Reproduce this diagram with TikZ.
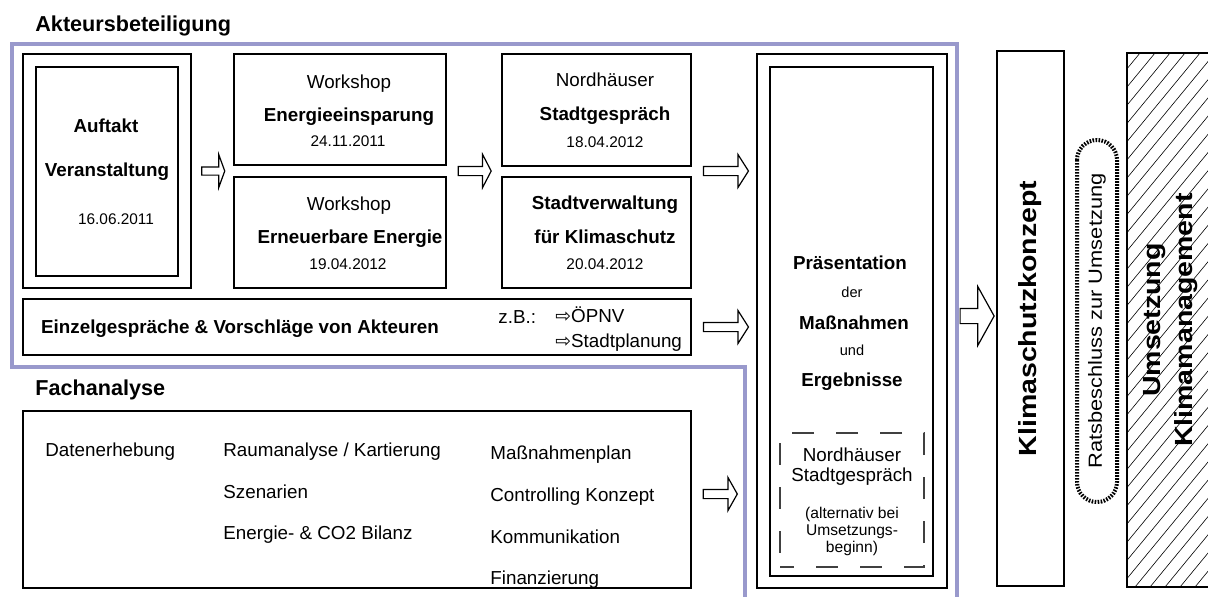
\documentclass[tikz,border=0pt]{standalone}
\usepackage{fontspec}
\setmainfont{Liberation Sans}
\newfontfamily\arrowfont{DejaVu Sans}
\usepackage{tikz}
\usetikzlibrary{shapes.arrows,backgrounds}
\definecolor{lavender}{RGB}{153,153,204}
\newcommand{\fsz}[1]{\fontsize{#1}{#1}\selectfont}
\tikzset{
  plain box/.style={draw, line width=0.6pt, inner sep=0pt},
  hollow arrow/.style={single arrow, draw, line width=0.6pt, fill=white, inner xsep=0pt,
    inner ysep=2pt, single arrow tip angle=#1},
  hollow arrow/.default=122,
  section head/.style={font=\bfseries\fsz{10.8}, inner sep=0pt, text height=7.8pt, text depth=0pt, anchor=west},
  bold text/.style={font=\bfseries\fsz{9.4}, inner sep=0pt, text height=6.8pt, text depth=0pt},
  norm text/.style={font=\fsz{9.4}, inner sep=0pt, text height=6.8pt, text depth=0pt},
  date text/.style={font=\fsz{7.7}, inner sep=0pt, text height=5.5pt, text depth=0pt},
  tiny text/.style={font=\fsz{7.3}, inner sep=0pt, text height=5.3pt, text depth=0pt},
  note text/.style={font=\fsz{7.8}, inner sep=0pt, text height=5.6pt, text depth=0pt},
  hatch line/.style={line width=0.3pt}
}

\begin{document}
\begin{tikzpicture}[x=0.5pt, y=-0.5pt]
    \useasboundingbox (0,0) rectangle (1208,596);

    % Akteursbeteiligung
    \node[section head] (akteur) at (35,24) {Akteursbeteiligung};
    \draw[lavender, line width=2pt] (745,610) -- (745,367) -- (12,367) -- (12,44) -- (957,44) -- (957,610);

    \node[plain box, minimum width=84pt, minimum height=117pt] (auftaktrahmen) at (107,171) {};
    \node[plain box, minimum width=71pt, minimum height=104.5pt] (auftakt) at (107,171.5) {};
    \node[bold text] (auftakt1) at (106,126) {Auftakt};
    \node[bold text] (auftakt2) at (107,170) {Veranstaltung};
    \node[date text] (auftakt3) at (116,219) {16.06.2011};

    \node[hollow arrow=140, minimum height=11.5pt, inner ysep=1.75pt, single arrow head extend=6.25pt] (pfeilA) at (212.5,171) {};

    \node[plain box, minimum width=106pt, minimum height=55.5pt] (ws1) at (340,109.5) {};
    \node[norm text] (ws1a) at (349,82) {Workshop};
    \node[bold text] (ws1b) at (349,115) {Energieeinsparung};
    \node[date text] (ws1c) at (348,141) {24.11.2011};
    \node[plain box, minimum width=106pt, minimum height=55.5pt] (ws2) at (340,232.5) {};
    \node[norm text] (ws2a) at (349,204) {Workshop};
    \node[bold text] (ws2b) at (350,237) {Erneuerbare Energie};
    \node[date text] (ws2c) at (348,264) {19.04.2012};

    \node[hollow arrow=125, minimum height=16.5pt, single arrow head extend=6pt] (pfeilB) at (473.5,171) {};

    \node[plain box, minimum width=94.5pt, minimum height=56pt] (gespr) at (596.5,110) {};
    \node[norm text] (gespr1) at (605,80) {Nordhäuser};
    \node[bold text] (gespr2) at (605,114) {Stadtgespräch};
    \node[date text] (gespr3) at (605,142) {18.04.2012};
    \node[plain box, minimum width=94.5pt, minimum height=55.5pt] (verw) at (596.5,232.5) {};
    \node[bold text] (verw1) at (605,203) {Stadtverwaltung};
    \node[bold text] (verw2) at (605,237) {für Klimaschutz};
    \node[date text] (verw3) at (605,264) {20.04.2012};

    \node[hollow arrow=115, minimum height=22.5pt, single arrow head extend=6pt] (pfeilC) at (724.5,171) {};

    \node[plain box, minimum width=334pt, minimum height=28pt] (einzel) at (357,327) {};
    \node[bold text] (einzel1) at (240,327) {Einzelgespräche \& Vorschläge von Akteuren};
    \node[norm text, anchor=west] (zb) at (498,317) {z.B.:};
    \node[norm text, anchor=west] (oepnv) at (555,316) {{\arrowfont ⇨}ÖPNV};
    \node[norm text, anchor=west] (planung) at (555,341) {{\arrowfont ⇨}Stadtplanung};

    \node[hollow arrow=115, minimum height=22.5pt, single arrow head extend=6pt] (pfeilD) at (724.5,327) {};

    % Fachanalyse
    \node[section head] (fachkopf) at (35,387.5) {Fachanalyse};
    \node[plain box, minimum width=334pt, minimum height=88.5pt] (fach) at (357,499.5) {};
    \node[norm text, anchor=west] (daten) at (45,450) {Datenerhebung};
    \node[norm text, anchor=west] (raum) at (223,450) {Raumanalyse / Kartierung};
    \node[norm text, anchor=west] (szen) at (223,492) {Szenarien};
    \node[norm text, anchor=west] (bilanz) at (223,533) {Energie- \& CO2 Bilanz};
    \node[norm text, anchor=west] (plan) at (490,453) {Maßnahmenplan};
    \node[norm text, anchor=west] (contr) at (490,495) {Controlling Konzept};
    \node[norm text, anchor=west] (komm) at (490,537) {Kommunikation};
    \node[norm text, anchor=west] (finanz) at (490,578) {Finanzierung};

    \node[hollow arrow=121, minimum height=17pt, single arrow head extend=6pt] (pfeilE) at (719,494) {};

    % Praesentation
    \node[plain box, minimum width=95pt, minimum height=267pt] (praesrahmen) at (852,321) {};
    \node[plain box, minimum width=81.5pt, minimum height=254.5pt] (praes) at (851.5,321.5) {};
    \node[bold text] (praes1) at (850,263) {Präsentation};
    \node[tiny text] (praes2) at (852,292) {der};
    \node[bold text] (praes3) at (854,323) {Maßnahmen};
    \node[tiny text] (praes4) at (852,350) {und};
    \node[bold text] (praes5) at (852,380) {Ergebnisse};
    \node[draw=black!75, line width=0.6pt, dash pattern=on 11pt off 11pt, dash phase=4pt,
      minimum width=72pt, minimum height=67pt] (alt) at (852,500) {};
    \node[norm text] (alt1) at (852,455) {Nordhäuser};
    \node[norm text] (alt2) at (852,475) {Stadtgespräch};
    \node[note text] (alt3) at (852,513) {(alternativ bei};
    \node[note text] (alt4) at (852,530) {Umsetzungs-};
    \node[note text] (alt5) at (852,547) {beginn)};

    \node[hollow arrow=122, minimum height=17pt, inner ysep=3.5pt, single arrow head extend=11pt] (pfeilF) at (975,316) {};

    % Konzept, Beschluss, Umsetzung
    \node[plain box, rotate=90, minimum width=267.5pt, minimum height=33.5pt, font=\bfseries\fsz{12.4}]
      (konzept) at (1030.5,318.5) {\scalebox{1.15}[1]{Klimaschutzkonzept}};
    \node[draw, rotate=90, line width=2pt, dash pattern=on 0.8pt off 0.7pt, rounded corners=10pt,
      minimum width=181pt, minimum height=20pt, inner sep=0pt, font=\fsz{9.5}]
      (rats) at (1097,321) {\scalebox{1.15}[1]{Ratsbeschluss zur Umsetzung}};
    \node[plain box, rotate=90, minimum width=267pt, minimum height=44pt, align=center, font=\bfseries\fsz{12.4}]
      (mgmt) at (1171,320) {\scalebox{1.15}[1]{Umsetzung}\\[3.6pt]\scalebox{1.15}[1]{Klimamanagement}};
    \begin{scope}[on background layer]
        \clip (1127,53) rectangle (1208,587);
        \foreach \k in {0,...,36}
            \draw[hatch line] (700+\k*15,587) -- ++(440,-534);
    \end{scope}
\end{tikzpicture}
\end{document}
